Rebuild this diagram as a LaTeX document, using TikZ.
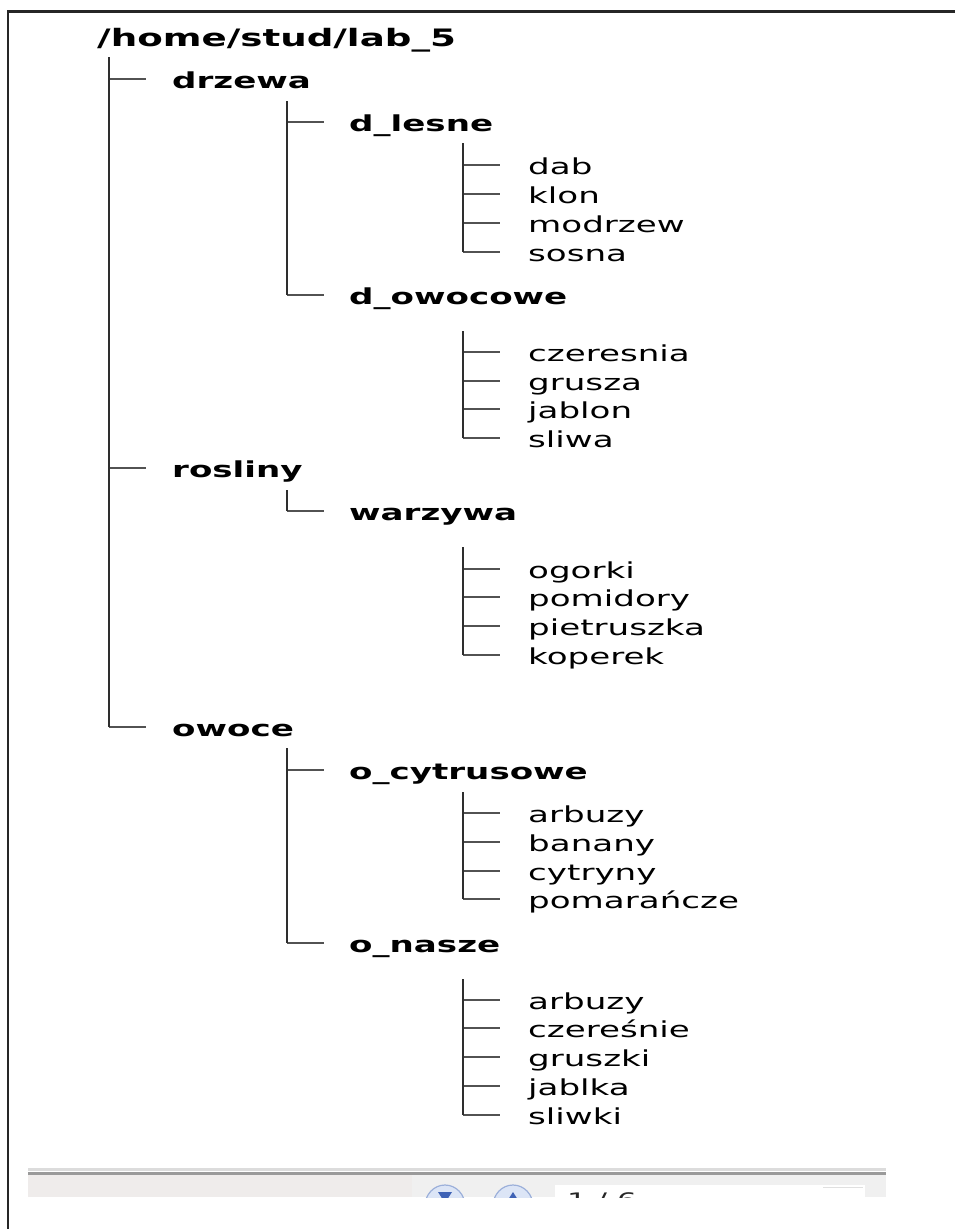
\documentclass[tikz,border=0pt]{standalone}
\usepackage{fontspec}
\setmainfont[FakeStretch=1.55]{DejaVu Sans}
\definecolor{barfill}{HTML}{EFECEB}
\definecolor{barright}{HTML}{F0F0F0}
\definecolor{lightline}{HTML}{DCDCDC}
\definecolor{darkline}{HTML}{9A9A9A}
\definecolor{btnfill}{HTML}{DCE5F6}
\definecolor{btnedge}{HTML}{9CB0DA}
\definecolor{btnglyph}{HTML}{3F62B5}
\tikzset{
  dirnode/.style={anchor=base west, inner sep=0pt, font=\fontsize{22}{26}\selectfont\bfseries},
  leafnode/.style={anchor=base west, inner sep=0pt, font=\fontsize{22}{26}\selectfont},
  rootnode/.style={anchor=base west, inner sep=0pt, font=\fontsize{24}{28}\selectfont\bfseries},
  trunk/.style={draw=black!82, line width=2.6pt},
  twig/.style={draw=black!68, line width=2pt},
}
% #1 vertical x, #2 tick y, #3 name, #4 text, #5 style, #6 text offset
\newcommand\kid[6]{%
  \coordinate (#3-j) at (#1,#2);
  \node[#5] (#3) at (#1+#6,#2+9.5) {#4};
  \draw[twig] (#3-j) -- ([shift={(37-#6,-9.5)}]#3.base west);
}
\begin{document}
\begin{tikzpicture}[x=1pt,y=-1pt]
\useasboundingbox (0,0) rectangle (955,1229);
% frame
\draw[line width=2.5pt, black!85] (955,11.3) -- (8,11.3) -- (8,1229);

% root
\node[rootnode] (root) at (97,46.5) {/home/stud/lab\_5};
\coordinate (root-v) at (109,57);

% level 1
\kid{109}{79}{drzewa}{drzewa}{dirnode}{63}
\kid{109}{468}{rosliny}{rosliny}{dirnode}{63}
\kid{109}{727}{owoce}{owoce}{dirnode}{63}
\draw[trunk] (root-v) -- (owoce-j);

% level 2 under drzewa
\coordinate (drzewa-v) at (287,101);
\kid{287}{122}{dlesne}{d\_lesne}{dirnode}{62}
\kid{287}{295}{dowoc}{d\_owocowe}{dirnode}{62}
\draw[trunk] (drzewa-v) -- (dowoc-j);
% under rosliny
\coordinate (rosliny-v) at (287,490);
\kid{287}{511}{warzywa}{warzywa}{dirnode}{62}
\draw[trunk] (rosliny-v) -- (warzywa-j);
% under owoce
\coordinate (owoce-v) at (287,748);
\kid{287}{770}{ocytr}{o\_cytrusowe}{dirnode}{62}
\kid{287}{943}{onasze}{o\_nasze}{dirnode}{62}
\draw[trunk] (owoce-v) -- (onasze-j);

% leaves d_lesne
\coordinate (dlesne-v) at (463,143);
\kid{463}{165}{dab}{dab}{leafnode}{65}
\kid{463}{194}{klon}{klon}{leafnode}{65}
\kid{463}{223}{modrzew}{modrzew}{leafnode}{65}
\kid{463}{252}{sosna}{sosna}{leafnode}{65}
\draw[trunk] (dlesne-v) -- (sosna-j);
% leaves d_owocowe
\coordinate (dowoc-v) at (463,331);
\kid{463}{352}{czeresnia}{czeresnia}{leafnode}{65}
\kid{463}{381}{grusza}{grusza}{leafnode}{65}
\kid{463}{409}{jablon}{jablon}{leafnode}{65}
\kid{463}{438}{sliwa}{sliwa}{leafnode}{65}
\draw[trunk] (dowoc-v) -- (sliwa-j);
% leaves warzywa
\coordinate (warzywa-v) at (463,547);
\kid{463}{569}{ogorki}{ogorki}{leafnode}{65}
\kid{463}{597}{pomidory}{pomidory}{leafnode}{65}
\kid{463}{626}{pietruszka}{pietruszka}{leafnode}{65}
\kid{463}{655}{koperek}{koperek}{leafnode}{65}
\draw[trunk] (warzywa-v) -- (koperek-j);
% leaves o_cytrusowe
\coordinate (ocytr-v) at (463,792);
\kid{463}{813}{arbuzyA}{arbuzy}{leafnode}{65}
\kid{463}{842}{banany}{banany}{leafnode}{65}
\kid{463}{871}{cytryny}{cytryny}{leafnode}{65}
\kid{463}{899}{pomarancze}{pomarańcze}{leafnode}{65}
\draw[trunk] (ocytr-v) -- (pomarancze-j);
% leaves o_nasze
\coordinate (onasze-v) at (463,979);
\kid{463}{1000}{arbuzyB}{arbuzy}{leafnode}{65}
\kid{463}{1028}{czeresnie}{czereśnie}{leafnode}{65}
\kid{463}{1057}{gruszki}{gruszki}{leafnode}{65}
\kid{463}{1086}{jablka}{jablka}{leafnode}{65}
\kid{463}{1115}{sliwki}{sliwki}{leafnode}{65}
\draw[trunk] (onasze-v) -- (sliwki-j);

% bottom toolbar strip (cut off)
\begin{scope}
\clip (0,0) rectangle (955,1197);
\fill[lightline] (28,1167.5) rectangle (886,1170.5);
\fill[darkline] (28,1172) rectangle (886,1174.5);
\fill[barfill] (28,1174.5) rectangle (412,1197);
\fill[barright] (412,1174.5) rectangle (886,1197);
\fill[white] (555,1185) rectangle (865,1197);
\draw[black!12, line width=1pt] (823,1187) -- (863,1187);
\draw[btnedge, fill=btnfill, line width=1.2pt] (445,1206) ellipse [x radius=20, y radius=21];
\draw[btnedge, fill=btnfill, line width=1.2pt] (513,1206) ellipse [x radius=20, y radius=21];
\fill[btnglyph] (438,1192) -- (452,1192) -- (445,1203) -- cycle;
\fill[btnglyph] (513,1192) -- (520,1203) -- (506,1203) -- cycle;
\node[anchor=base west, inner sep=0pt, font=\fontsize{20}{24}\selectfont, text=black!85] (pagenum) at (567,1207) {1 / 6};
\end{scope}
\end{tikzpicture}
\end{document}
